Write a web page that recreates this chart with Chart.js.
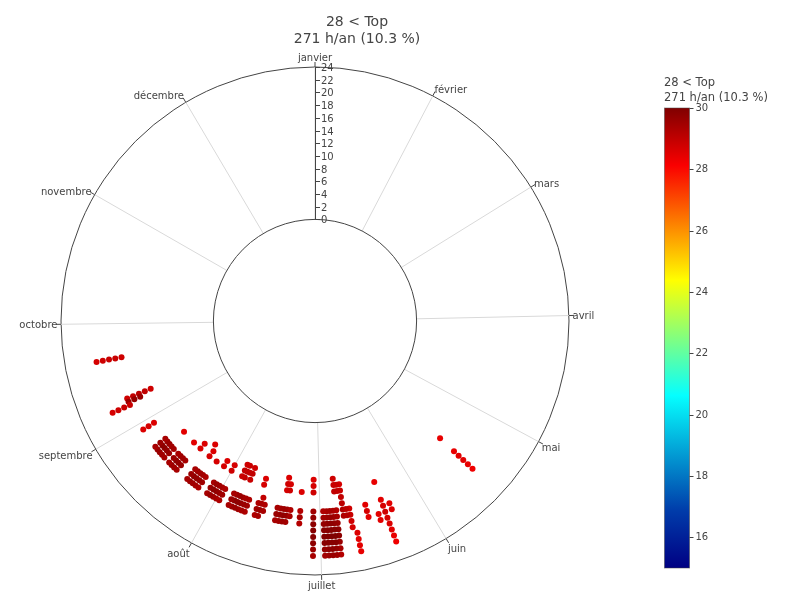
<!DOCTYPE html>
<html>
<head>
<meta charset="utf-8">
<script src="https://cdn.jsdelivr.net/npm/chart.js@4.4.1/dist/chart.umd.min.js"></script>
<style>
  html, body { margin: 0; padding: 0; background: #fff; }
  #wrap { position: relative; width: 788px; height: 606px; }
</style>
</head>
<body>
<div id="wrap"><canvas id="polar-chart"></canvas></div>
<script>
// ---------------------------- Data ------------------------------------------ //
const title_lines = [ "28 < Top", "271 h/an (10.3 %)" ];
const month_names = [ "janvier", "février", "mars", "avril", "mai", "juin",
    "juillet", "août", "septembre", "octobre", "novembre", "décembre" ];
const month_days = [ 0, 28, 59, 90, 120, 151, 181, 212, 243, 273, 304, 334 ];
const hour_ticks = [ 0, 2, 4, 6, 8, 10, 12, 14, 16, 18, 20, 22, 24 ];
const colorbar_ticks = [ 16, 18, 20, 22, 24, 26, 28, 30 ];

// hours above 28 °C : day of year, the hours of that day, their temperature
const days = [ 263, 251, 250, 249, 241,
    235, 234, 233, 232, 231, 229, 228, 227, 226, 225,
    222, 221, 220, 219, 218, 215, 214, 213, 212, 211,
    208, 207, 206, 205, 204, 203, 200, 199, 198,
    194, 193, 192, 191, 190, 187,
    183, 180, 179, 178, 177, 176, 175, 174, 173, 172, 171,
    167, 164, 162, 160, 135 ];
const hours_by_day = [
    [ 15, 16, 17, 18, 19 ], [ 12, 13, 14, 15, 16 ], [ 14, 15, 16 ], [ 16, 17, 18, 19 ], [ 14, 15, 16 ],
    [ 14, 15, 16 ], [ 14, 15, 16 ], [ 11, 14, 15, 16 ], [ 14, 15, 16 ], [ 14, 15, 16 ],
    [ 14, 15, 16 ], [ 11, 14, 15, 16 ], [ 14, 15, 16 ], [ 14, 15, 16 ], [ 10, 11 ],
    [ 9, 14, 15, 16 ], [ 10, 11, 14, 15, 16 ], [ 14, 15, 16 ], [ 14, 15, 16 ], [ 11, 14, 15, 16 ],
    [ 10, 11, 14, 15, 16 ], [ 14, 15, 16 ], [ 14, 15, 16 ], [ 10, 11, 14, 15, 16 ], [ 14, 15, 16 ],
    [ 9, 10, 11, 14, 15, 16 ], [ 9, 10, 11, 14, 15, 16 ], [ 10, 14, 15, 16 ], [ 9, 10, 11, 14, 15, 16 ],
    [ 14, 15, 16 ], [ 14, 15, 16 ], [ 10, 11, 14, 15, 16 ], [ 13, 14, 15, 16 ], [ 14, 15 ],
    [ 14, 15, 16 ], [ 14, 15, 16 ], [ 9, 10, 11, 14, 15, 16 ], [ 10, 11, 14, 15, 16 ], [ 14, 15 ], [ 11, 14, 15, 16 ],
    [ 9, 10, 11, 14, 15, 16, 17, 18, 19, 20, 21 ],
    [ 14, 15, 16, 17, 18, 19, 20, 21 ], [ 14, 15, 16, 17, 18, 19, 20, 21 ],
    [ 14, 15, 16, 17, 18, 19, 20, 21 ], [ 14, 15, 16, 17, 18, 19, 20, 21 ],
    [ 9, 10, 11, 14, 15, 16, 17, 18, 19, 20, 21 ], [ 10, 11 ],
    [ 10, 11, 12, 13, 14, 15 ], [ 14, 15 ], [ 14, 15, 16, 17 ], [ 18, 19, 20, 21 ],
    [ 14, 15, 16 ], [ 16, 17 ], [ 11, 14, 15, 16, 17, 18, 19, 20, 21 ], [ 15, 16 ],
    [ 11, 14, 15, 16, 17, 18 ]
];
const temps_by_day = [
    [ 28.8, 28.9, 28.9, 28.8, 28.7 ], [ 28.8, 29.0, 29.1, 29.0, 28.8 ], [ 29.6, 29.7, 29.6 ], [ 28.9, 28.9, 28.8, 28.7 ], [ 28.6, 28.7, 28.6 ],
    [ 29.4, 29.6, 29.4 ], [ 29.6, 29.8, 29.6 ], [ 28.5, 29.6, 29.8, 29.6 ], [ 29.5, 29.7, 29.5 ], [ 29.4, 29.6, 29.4 ],
    [ 29.4, 29.6, 29.4 ], [ 28.5, 29.6, 29.8, 29.6 ], [ 29.5, 29.7, 29.5 ], [ 29.4, 29.6, 29.4 ], [ 28.6, 28.6 ],
    [ 28.6, 29.4, 29.6, 29.4 ], [ 28.6, 28.7, 29.6, 29.8, 29.6 ], [ 29.5, 29.7, 29.5 ], [ 29.4, 29.6, 29.4 ], [ 28.7, 29.3, 29.5, 29.3 ],
    [ 28.6, 28.7, 29.4, 29.6, 29.4 ], [ 29.6, 29.8, 29.6 ], [ 29.5, 29.7, 29.5 ], [ 28.7, 28.8, 29.4, 29.6, 29.4 ], [ 29.3, 29.5, 29.3 ],
    [ 28.8, 29.0, 28.9, 29.4, 29.6, 29.4 ], [ 28.9, 29.1, 29.0, 29.6, 29.8, 29.6 ], [ 29.0, 29.6, 29.8, 29.6 ], [ 28.8, 29.0, 28.9, 29.5, 29.7, 29.5 ],
    [ 29.4, 29.6, 29.4 ], [ 29.3, 29.5, 29.3 ], [ 28.6, 28.7, 29.3, 29.5, 29.3 ], [ 29.0, 29.4, 29.6, 29.4 ], [ 29.3, 29.4 ],
    [ 29.4, 29.6, 29.4 ], [ 29.5, 29.7, 29.5 ], [ 28.6, 28.8, 28.7, 29.6, 29.8, 29.6 ], [ 28.7, 28.8, 29.5, 29.7, 29.5 ], [ 29.3, 29.4 ], [ 28.6, 29.2, 29.4, 29.2 ],
    [ 28.6, 28.7, 28.8, 29.5, 29.7, 29.8, 29.9, 29.9, 29.8, 29.6, 29.4 ],
    [ 29.3, 29.5, 29.7, 29.9, 30.0, 29.9, 29.7, 29.5 ], [ 29.4, 29.6, 29.8, 29.9, 30.0, 29.9, 29.8, 29.6 ],
    [ 29.4, 29.6, 29.8, 29.9, 30.0, 29.9, 29.8, 29.6 ], [ 29.3, 29.5, 29.7, 29.9, 30.0, 29.9, 29.7, 29.5 ],
    [ 28.8, 28.9, 29.0, 29.2, 29.4, 29.6, 29.8, 29.8, 29.6, 29.4, 29.2 ], [ 28.9, 29.0 ],
    [ 28.7, 28.9, 29.0, 29.1, 29.3, 29.3 ], [ 29.1, 29.2 ], [ 28.8, 28.9, 28.8, 28.7 ], [ 28.6, 28.5, 28.5, 28.4 ],
    [ 28.5, 28.7, 28.5 ], [ 28.5, 28.5 ], [ 28.4, 28.5, 28.7, 28.8, 28.7, 28.6, 28.5, 28.4, 28.3 ], [ 28.5, 28.6 ],
    [ 28.4, 28.4, 28.5, 28.5, 28.4, 28.3 ]
];

// ---------------------------- Colours ------------------------------------------ //
const cmin = 15, cmax = 30;
const jet_stops = [ [ 0, [ 0, 0, 131 ] ], [ 0.125, [ 0, 60, 170 ] ], [ 0.375, [ 5, 255, 255 ] ],
    [ 0.625, [ 255, 255, 0 ] ], [ 0.875, [ 250, 0, 0 ] ], [ 1, [ 128, 0, 0 ] ] ];

function jet_color( v )
{
    const t = Math.min( 1, Math.max( 0, ( v - cmin ) / ( cmax - cmin ) ) );
    for ( let i = 1; i < jet_stops.length; i++ )
    {
        const [ t0, c0 ] = jet_stops[ i - 1 ];
        const [ t1, c1 ] = jet_stops[ i ];
        if ( t <= t1 )
        {
            const f = ( t - t0 ) / ( t1 - t0 );
            return 'rgb(' + c0.map( ( c, k ) => Math.round( c + ( c1[ k ] - c ) * f ) ).join( ',' ) + ')';
        }
    }
}

// ---------------------------- Datasets ------------------------------------------ //
// the radar has one spoke per day; several hours on the same day go to separate datasets
const day_labels = [];
for ( let d = 0; d < 365; d++ ) day_labels.push( d );

const layers = [];
days.forEach( ( d, i ) =>
{
    hours_by_day[ i ].forEach( ( h, k ) =>
    {
        let layer = layers.find( l => l.data[ d ] === null );
        if ( !layer )
        {
            layer = { data: new Array( 365 ).fill( null ), temps: new Array( 365 ).fill( null ) };
            layers.push( layer );
        }
        layer.data[ d ] = h;
        layer.temps[ d ] = temps_by_day[ i ][ k ];
    } );
} );

const datasets = layers.map( l => (
{
    data: l.data,
    showLine: false,
    fill: false,
    borderWidth: 0,
    borderColor: 'rgba(0,0,0,0)',
    backgroundColor: 'rgba(0,0,0,0)',
    pointRadius: 3,
    pointHoverRadius: 3,
    pointBorderWidth: 0,
    pointBackgroundColor: ctx => jet_color( l.temps[ ctx.dataIndex ] )
} ) );

// ---------------------------- Decorations ------------------------------------------ //
const FONT = '"DejaVu Sans", Verdana, sans-serif';
const TEXT = '#444';

const polar_decor = {
    id: 'polar_decor',
    beforeDatasetsDraw( chart )
    {
        const s = chart.scales.r;
        const ctx = chart.ctx;
        const cx = s.xCenter, cy = s.yCenter;
        const r0 = s.getDistanceFromCenterForValue( 0 );
        const r24 = s.getDistanceFromCenterForValue( 24 );

        ctx.save();
        // hole
        ctx.beginPath();
        ctx.arc( cx, cy, r0, 0, Math.PI * 2 );
        ctx.fillStyle = '#fff';
        ctx.fill();
        ctx.strokeStyle = TEXT;
        ctx.lineWidth = 1;
        ctx.stroke();

        // radial axis along janvier
        ctx.beginPath();
        ctx.moveTo( cx + 0.5, cy - r0 );
        ctx.lineTo( cx + 0.5, cy - r24 );
        ctx.stroke();
        ctx.font = '10px ' + FONT;
        ctx.fillStyle = TEXT;
        ctx.textAlign = 'left';
        ctx.textBaseline = 'middle';
        hour_ticks.forEach( v =>
        {
            const y = Math.round( cy - s.getDistanceFromCenterForValue( v ) ) + 0.5;
            ctx.beginPath();
            ctx.moveTo( cx + 0.5, y );
            ctx.lineTo( cx + 5, y );
            ctx.stroke();
            ctx.fillText( String( v ), cx + 6, y + 0.5 );
        } );

        // month ticks and labels
        const fs = 10, pad = 3.6;
        month_days.forEach( ( d, i ) =>
        {
            const p = s.getPointPosition( d, r24 );
            const q = s.getPointPosition( d, r24 + 5 );
            ctx.beginPath();
            ctx.moveTo( p.x, p.y );
            ctx.lineTo( q.x, q.y );
            ctx.stroke();
            const theta = s.getIndexAngle( d );
            const sin = Math.cos( theta ), cos = Math.sin( theta );
            const x = p.x + cos * pad;
            const y = p.y - sin * ( pad + fs * ( sin > 0 ? 0.2 : 1 ) ) + Math.abs( cos ) * fs * 0.35;
            ctx.textAlign = Math.abs( cos ) < 0.1 ? 'center' : ( cos > 0 ? 'left' : 'right' );
            ctx.textBaseline = 'alphabetic';
            ctx.fillText( month_names[ i ], x, y );
        } );
        ctx.restore();
    },
    afterDraw( chart )
    {
        const ctx = chart.ctx;
        ctx.save();
        ctx.fillStyle = TEXT;

        // title
        ctx.font = '14px ' + FONT;
        ctx.textAlign = 'center';
        ctx.textBaseline = 'alphabetic';
        ctx.fillText( title_lines[ 0 ], 357, 26 );
        ctx.fillText( title_lines[ 1 ], 357, 43 );

        // colour bar
        const bx = 664.5, bw = 25, top = 108, bottom = 568;
        const yOf = v => bottom - ( v - cmin ) / ( cmax - cmin ) * ( bottom - top );
        const grad = ctx.createLinearGradient( 0, bottom, 0, top );
        jet_stops.forEach( ( [ t, c ] ) => grad.addColorStop( t, 'rgb(' + c.join( ',' ) + ')' ) );
        ctx.fillStyle = grad;
        ctx.fillRect( bx, top, bw, bottom - top );
        ctx.strokeStyle = 'rgba(68,68,68,0.5)';
        ctx.lineWidth = 1;
        ctx.strokeRect( bx, top, bw, bottom - top );

        ctx.fillStyle = TEXT;
        ctx.strokeStyle = TEXT;
        ctx.font = '10px ' + FONT;
        ctx.textAlign = 'left';
        ctx.textBaseline = 'middle';
        colorbar_ticks.forEach( v =>
        {
            const y = Math.round( yOf( v ) ) + 0.5;
            ctx.beginPath();
            ctx.moveTo( bx + bw, y );
            ctx.lineTo( bx + bw + 4, y );
            ctx.stroke();
            ctx.fillText( String( v ), bx + bw + 6, y );
        } );

        ctx.font = '11.5px ' + FONT;
        ctx.textBaseline = 'alphabetic';
        ctx.fillText( title_lines[ 0 ], 664, 86 );
        ctx.fillText( title_lines[ 1 ], 664, 101 );
        ctx.restore();
    }
};

// ---------------------------- Chart ------------------------------------------ //
const polar_chart = new Chart( document.getElementById( "polar-chart" ),
{
    type: 'radar',
    data: { labels: day_labels, datasets: datasets },
    options:
    {
        responsive: true,
        maintainAspectRatio: false,
        animation: false,
        layout: { padding: { left: 61, right: 219, top: 67, bottom: 31 } },
        plugins:
        {
            legend: { display: false },
            tooltip: { enabled: false }
        },
        scales:
        {
            r:
            {
                min: -16,
                max: 24,
                startAngle: 0,
                ticks: { display: false, stepSize: 2 },
                pointLabels: { display: false },
                grid:
                {
                    circular: true,
                    color: ctx => ctx.tick && ctx.tick.value === 24 ? TEXT : 'rgba(0,0,0,0)',
                    lineWidth: ctx => ctx.tick && ctx.tick.value === 24 ? 1 : 0
                },
                angleLines:
                {
                    display: true,
                    color: ctx => month_days.includes( ctx.index ) ? '#d9d9d9' : 'rgba(0,0,0,0)',
                    lineWidth: ctx => month_days.includes( ctx.index ) ? 1 : 0
                }
            }
        }
    },
    plugins: [ polar_decor ]
} );
</script>
</body>
</html>
